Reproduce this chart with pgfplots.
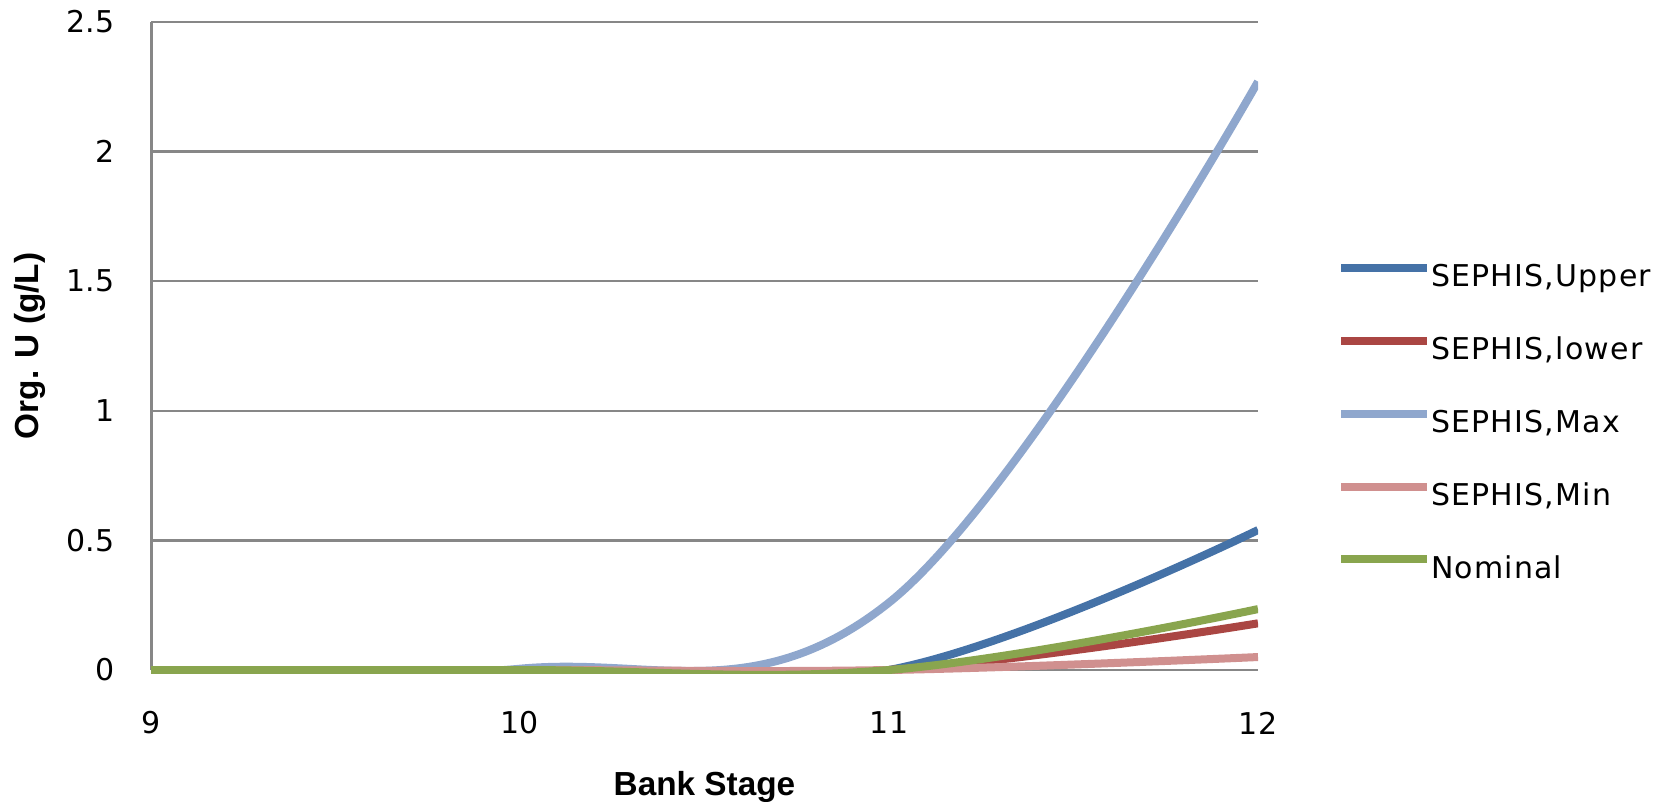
\documentclass[border=0pt]{standalone}
\usepackage{fontspec}
\setmainfont{DejaVu Sans}
\newfontfamily\labelfont{Liberation Sans}
\newfontfamily\legendfont[LetterSpace=4]{DejaVu Sans}
\usepackage{pgfplots}
\pgfplotsset{compat=1.18}

\definecolor{gridgray}{HTML}{878787}
\definecolor{upperblue}{HTML}{4572A7}
\definecolor{lowerred}{HTML}{AA4643}
\definecolor{maxblue}{HTML}{8FA7CD}
\definecolor{minpink}{HTML}{D0908F}
\definecolor{nomgreen}{HTML}{89A54E}

\begin{document}
\begin{tikzpicture}
\useasboundingbox (0pt,0pt) rectangle (500.4pt,240.6pt);
\begin{axis}[
  at={(45.3pt,39.6pt)}, anchor=south west,
  scale only axis, width=332.1pt, height=194.4pt,
  xmin=9, xmax=12, ymin=0, ymax=2.5,
  clip=false,
  axis lines*=left,
  x axis line style={draw=gridgray, line width=0.7pt},
  y axis line style={draw=gridgray, line width=0.9pt},
  xtick={9,10,11,12},
  ytick={0,0.5,1,1.5,2,2.5},
  yticklabels={0,0.5,1,1.5,2,2.5},
  major tick length=0pt,
  ymajorgrids,
  grid style={draw=gridgray, line width=0.7pt},
  /pgf/number format/assume math mode=true,
  tick label style={font=\fontsize{9}{10}\selectfont, text=black},
  xticklabel style={anchor=center, yshift=-15.9pt},
  yticklabel style={anchor=east, inner sep=0pt, xshift=-10.8pt},
  xlabel={Bank Stage},
  ylabel={Org. U (g/L)},
  xlabel style={at={(axis description cs:0.5,0)}, anchor=base, yshift=-37.5pt,
    font=\labelfont\bfseries\fontsize{10}{12}\selectfont},
  ylabel style={at={(axis description cs:-0.1093,0.5)}, anchor=center,
    font=\labelfont\bfseries\fontsize{10}{12}\selectfont},
  legend style={at={(axis description cs:1.0714,0.379)}, anchor=west,
    draw=none, fill=none, inner sep=0pt, outer sep=0pt,
    row sep=13.1pt, column sep=0pt,
    nodes={inner sep=0pt, text height=6.6pt, text depth=1.9pt},
    font=\legendfont\fontsize{9}{10}\selectfont},
  legend cell align=left,
  legend image code/.code={\draw[#1, line width=2.4pt] (0pt,3.3pt) -- (25.8pt,3.3pt);},
  every axis plot/.append style={line width=2.4pt, no markers, smooth, tension=0.65},
]
\begin{scope}
\clip (axis cs:9,-0.012) rectangle (axis cs:12,2.6);
\addplot[upperblue] coordinates {(9,0) (10,0) (11,0) (12,0.54)};
\addlegendentry{SEPHIS,Upper}
\addplot[lowerred] coordinates {(9,0) (10,0) (11,0) (12,0.18)};
\addlegendentry{SEPHIS,lower}
\addplot[maxblue] coordinates {(9,0) (10,0.005) (11,0.26) (12,2.27)};
\addlegendentry{SEPHIS,Max}
\addplot[minpink] coordinates {(9,0) (10,0) (11,0) (12,0.05)};
\addlegendentry{SEPHIS,Min}
\addplot[nomgreen] coordinates {(9,0) (10,0) (11,0) (12,0.235)};
\addlegendentry{Nominal}
\end{scope}
\end{axis}
\end{tikzpicture}
\end{document}
